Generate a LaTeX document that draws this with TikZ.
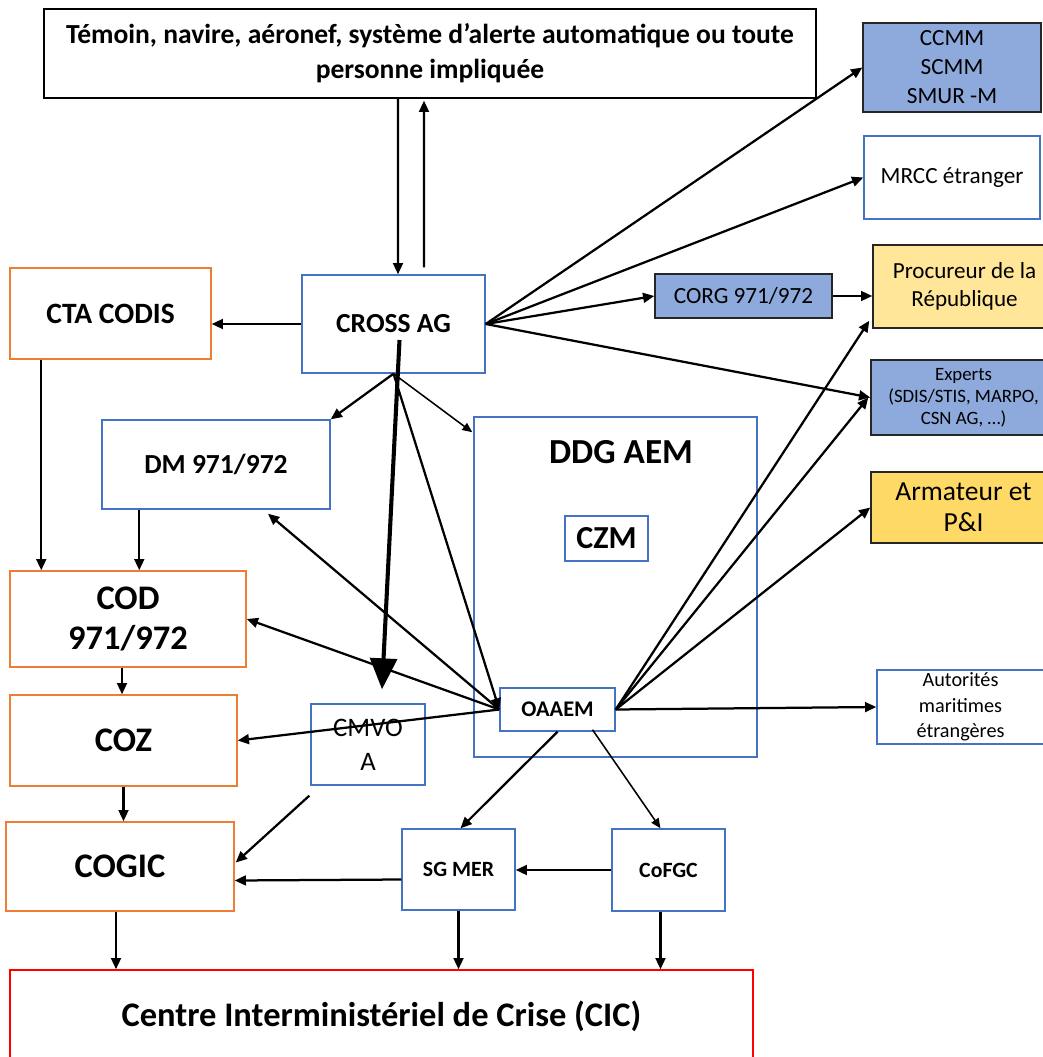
\documentclass[tikz,border=0pt]{standalone}
\usepackage{fontspec}
\setmainfont{Carlito}
\usepackage{tikz}
\usetikzlibrary{arrows.meta,calc}
\definecolor{secblue}{RGB}{68,114,196}
\definecolor{secorange}{RGB}{237,125,49}
\definecolor{secfill}{RGB}{142,169,219}
\definecolor{secsand}{RGB}{255,230,153}
\definecolor{secgold}{RGB}{255,217,102}
\definecolor{secred}{RGB}{255,0,0}

\begin{document}
\begin{tikzpicture}[x=.025cm,y=-.025cm,
  box/.style={draw,line width=1pt,fill=white,align=center,inner sep=2pt},
  bluebox/.style={box,draw=secblue},
  orangebox/.style={box,draw=secorange},
  filled/.style={box,draw=black!85},
  big/.style={font=\bfseries\fontsize{24.5}{28.5}\selectfont},
  mid/.style={font=\bfseries\fontsize{19.6}{25}\selectfont},
  small/.style={font=\bfseries\fontsize{15.5}{18}\selectfont},
  plain/.style={font=\fontsize{16.5}{20.6}\selectfont},
  flow/.style={-{Triangle[length=8pt,width=7pt]},line width=1.6pt},
  thin/.style={-{Triangle[length=7pt,width=6pt]},line width=1.1pt},
  heavy/.style={-{Triangle[length=22pt,width=19pt]},line width=2.9pt}]

\path[use as bounding box] (0,0) rectangle (1042,1057);

\node[box,draw=black,mid,minimum width=19.3cm,minimum height=2.225cm] (temoin) at (430,53.5)
  {Témoin, navire, aéronef, système d\char"27 alerte automatique ou toute\\personne impliquée};
\node[filled,fill=secfill,plain,minimum width=4.45cm,minimum height=2.225cm] (ccmm) at (952,67.5)
  {CCMM\\SCMM\\SMUR -M};
\node[bluebox,plain,minimum width=4.4cm,minimum height=2.075cm] (mrcc) at (952,177.5) {MRCC étranger};
\node[filled,fill=secfill,plain,minimum width=4.425cm,minimum height=1.1cm] (corg) at (743.5,296) {CORG 971/972};
\node[filled,fill=secsand,font=\fontsize{16.4}{19.5}\selectfont,minimum width=4.575cm,minimum height=2.075cm] (procureur) at (964.5,286.5)
  {Procureur de la\\République};
\node[filled,fill=secfill,font=\fontsize{13.4}{15.5}\selectfont,minimum width=4.625cm,minimum height=1.875cm] (experts) at (963.5,397.5)
  {Experts\\(SDIS/STIS, MARPO,\\CSN AG, …)};
\node[filled,fill=secgold,font=\fontsize{19.6}{22}\selectfont,minimum width=4.625cm,minimum height=1.775cm] (armateur) at (963.5,507.5)
  {Armateur et\\P\&I};
\node[bluebox,font=\fontsize{14.4}{18}\selectfont,minimum width=4.175cm,minimum height=1.85cm] (autorites) at (960.5,707)
  {Autorités\\maritimes\\étrangères};

\node[orangebox,font=\bfseries\fontsize{21}{25}\selectfont,minimum width=5.025cm,minimum height=2.275cm] (cta) at (110.5,313.5) {CTA CODIS};
\node[bluebox,mid,minimum width=4.575cm,minimum height=2.45cm] (cross) at (393.5,324) {CROSS AG};
\node[bluebox,mid,minimum width=5.7cm,minimum height=2.225cm] (dm) at (216,464.5) {DM 971/972};
\node[bluebox,minimum width=7.075cm,minimum height=8.5cm] (ddg) at (615.5,587) {};
\node[font=\bfseries\fontsize{25}{28}\selectfont] (ddgtitle) at (621,452) {DDG AEM};
\node[bluebox,font=\bfseries\fontsize{22.8}{26}\selectfont,minimum width=2.075cm,minimum height=1.125cm] (czm) at (606.5,538.5) {CZM};
\node[bluebox,font=\bfseries\fontsize{15.9}{18}\selectfont,minimum width=2.875cm,minimum height=1.075cm] (oaaem) at (557.5,709.5) {OAAEM};

\node[orangebox,big,minimum width=5.9cm,minimum height=2.4cm] (cod) at (128,619) {COD\\971/972};
\node[orangebox,big,minimum width=5.675cm,minimum height=2.275cm] (coz) at (123.5,740.5) {COZ};
\node[bluebox,font=\fontsize{19}{24}\selectfont,minimum width=2.85cm,minimum height=2.025cm] (cmvoa) at (368,744.5) {CMVO\\A};
\node[orangebox,big,minimum width=5.7cm,minimum height=2.225cm] (cogic) at (120,866.5) {COGIC};
\node[bluebox,small,minimum width=2.825cm,minimum height=2.025cm] (sgmer) at (458.5,869.5) {SG MER};
\node[bluebox,small,minimum width=2.825cm,minimum height=2.05cm] (cofgc) at (668.5,870) {CoFGC};
\node[box,draw=secred,big,minimum width=18.575cm,minimum height=2.3cm] (cic) at (381.5,1016)
  {Centre Interministériel de Crise (CIC)};

\draw[flow] ($(temoin.south)+(-32,0)$) -- ($(cross.north)+(4.5,0)$);
\draw[flow] ($(cross.north)+(30.5,-7)$) -- ($(temoin.south)+(-6,2)$);
\draw[flow] (cross.west) -- (cross.west -| cta.east);
\draw[flow] (cross.east) -- (ccmm.west);
\draw[flow] (cross.east) -- (mrcc.west);
\draw[flow] (cross.east) -- (corg.west);
\draw[flow] (cross.east) -- (experts.west);
\draw[flow] (corg.east) -- (corg.east -| procureur.west);
\draw[flow] (cross.south) -- (dm.north east);
\draw[thin] (cross.south) -- ($(ddg.north west)+(-1,16)$);
\draw[flow] (cross.south) -- (oaaem.west);
\draw[heavy] ($(cross.center)+(6,16)$) -- ($(cmvoa.north)+(14,-14)$);

\draw[flow] (oaaem.west) -- ($(dm.south)+(52,4)$);
\draw[flow] (oaaem.west) -- (cod.east);
\draw[flow] (oaaem.west) -- (coz.east);
\draw[flow] (oaaem.east) -- ($(procureur.south west)+(-3,-8)$);
\draw[flow] (oaaem.east) -- ($(experts.west)+(-2,0)$);
\draw[flow] (oaaem.east) -- (armateur.west);
\draw[flow] (oaaem.east) -- (autorites.west);
\draw[flow] (oaaem.south) -- ($(sgmer.north)+(2,0)$);
\draw[thin] ($(oaaem.south)+(35,-2)$) -- ($(cofgc.north)+(-8,0)$);
\draw[flow] (cofgc.west) -- (cofgc.west -| sgmer.east);
\draw[flow] ($(sgmer.west)+(0,10)$) -- ($(cogic.east)+(0,14)$);
\draw[flow] ($(cmvoa.south west)+(-1,10)$) -- ($(cogic.east)+(1,-4)$);

\draw[flow] ($(cta.south west)+(32,0)$) coordinate (ctaout) -- (ctaout |- cod.north);
\draw[flow] ($(dm.south west)+(38,0)$) coordinate (dmout) -- (dmout |- cod.north);
\draw[flow] ($(cod.south)+(-6,0)$) coordinate (codout) -- (codout |- coz.north);
\draw[flow] (coz.south) -- (coz.south |- cogic.north);
\draw[flow] ($(cogic.south)+(-4,0)$) coordinate (cogicout) -- (cogicout |- cic.north);
\draw[flow] (sgmer.south) -- (sgmer.south |- cic.north);
\draw[flow] ($(cofgc.south)+(-8,0)$) coordinate (cofgcout) -- (cofgcout |- cic.north);

\end{tikzpicture}
\end{document}
